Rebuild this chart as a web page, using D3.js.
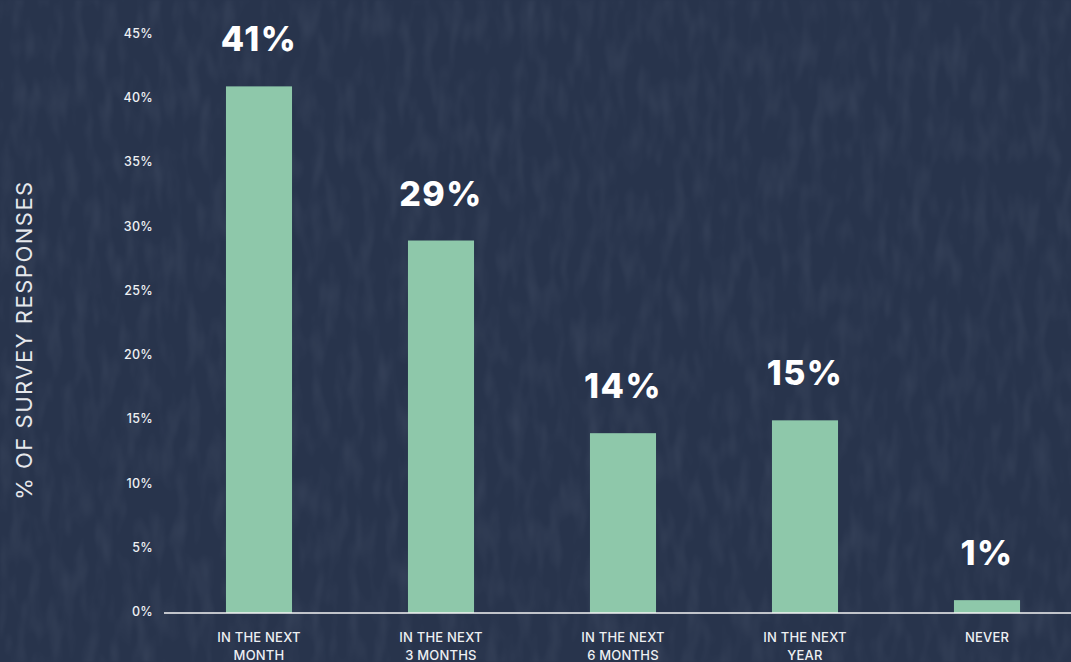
<!DOCTYPE html>
<html>
<head>
<meta charset="utf-8">
<script src="https://cdn.jsdelivr.net/npm/d3@7"></script>
<style>
  html, body { margin: 0; padding: 0; background: #29364e; }
  svg { display: block; }
</style>
</head>
<body>
<svg id="chart" width="1071" height="662"></svg>
<script>
// Survey: when do respondents expect to act?
const categories = [
  ["IN THE NEXT", "MONTH"],
  ["IN THE NEXT", "3 MONTHS"],
  ["IN THE NEXT", "6 MONTHS"],
  ["IN THE NEXT", "YEAR"],
  ["NEVER"]
];
const values = [41, 29, 14, 15, 1];
const yTicks = [0, 5, 10, 15, 20, 25, 30, 35, 40, 45];
const yTitle = "% OF SURVEY RESPONSES";

const W = 1071, H = 662;
const svg = d3.select("#chart");
const font = "Inter, 'Open Sans', sans-serif";

// Background with a soft, vertically streaked texture
const defs = svg.append("defs");
const f = defs.append("filter").attr("id", "grain")
  .attr("x", 0).attr("y", 0).attr("width", "100%").attr("height", "100%");
f.append("feTurbulence")
  .attr("type", "fractalNoise")
  .attr("baseFrequency", "0.08 0.025")
  .attr("numOctaves", 2)
  .attr("seed", 11)
  .attr("result", "noise");
f.append("feColorMatrix")
  .attr("in", "noise")
  .attr("type", "matrix")
  .attr("values", "0 0 0 0 0.72  0 0 0 0 0.80  0 0 0 0 0.95  0 0 0 0.6 -0.25");
f.append("feGaussianBlur").attr("stdDeviation", 0.8);

svg.append("rect").attr("width", W).attr("height", H).attr("fill", "#28344c");
svg.append("rect").attr("width", W).attr("height", H)
  .attr("filter", "url(#grain)").attr("opacity", 0.22);

// Scales
const idx = values.map((d, i) => i);
const x = d3.scaleBand()
  .domain(idx)
  .range([168, 1078])
  .paddingInner(0.637)
  .paddingOuter(0.3185);

const y = d3.scaleLinear()
  .domain([0, 45])
  .range([613, 35]);

// Y axis tick labels (no axis line or tick marks)
const yAxis = d3.axisLeft(y)
  .tickValues(yTicks)
  .tickFormat(d => d + "%")
  .tickSize(0)
  .tickPadding(0);
const gy = svg.append("g")
  .attr("transform", "translate(153,-1.5)")
  .call(yAxis);
gy.select(".domain").remove();
gy.selectAll("text")
  .attr("fill", "#eef0f3")
  .style("font-family", font)
  .style("font-size", "12.5px")
  .style("font-weight", 500)
  .style("letter-spacing", "0.3px");

// Y axis title
svg.append("text")
  .attr("transform", "translate(32,340) rotate(-90)")
  .attr("text-anchor", "middle")
  .attr("fill", "#e6e8ec")
  .style("font-family", font)
  .style("font-size", "22px")
  .style("font-weight", 400)
  .style("letter-spacing", "1.5px")
  .text(yTitle);

// Bars
svg.append("g").selectAll("rect")
  .data(values)
  .join("rect")
  .attr("x", (d, i) => x(i))
  .attr("width", x.bandwidth())
  .attr("y", d => y(d))
  .attr("height", d => y(0) - y(d))
  .attr("fill", "#8ec8aa");

// Baseline
svg.append("line")
  .attr("x1", 164).attr("x2", W)
  .attr("y1", y(0)).attr("y2", y(0))
  .attr("stroke", "#f4f4f4")
  .attr("stroke-width", 1.5);

// Value labels above bars
svg.append("g").selectAll("text")
  .data(values)
  .join("text")
  .attr("x", (d, i) => x(i) + x.bandwidth() / 2)
  .attr("y", d => y(d) - 35)
  .attr("text-anchor", "middle")
  .attr("fill", "#ffffff")
  .style("font-family", font)
  .style("font-size", "34px")
  .style("font-weight", 800)
  .style("letter-spacing", "1.5px")
  .text(d => d + "%");

// Category labels under bars
const cat = svg.append("g").selectAll("text")
  .data(categories)
  .join("text")
  .attr("x", (d, i) => x(i) + x.bandwidth() / 2)
  .attr("y", 642)
  .attr("text-anchor", "middle")
  .attr("fill", "#eef0f3")
  .style("font-family", font)
  .style("font-size", "13px")
  .style("font-weight", 500)
  .style("letter-spacing", "0.2px");
cat.selectAll("tspan")
  .data(d => d)
  .join("tspan")
  .attr("x", function () { return d3.select(this.parentNode).attr("x"); })
  .attr("dy", (d, i) => i === 0 ? 0 : 18)
  .text(d => d);
</script>
</body>
</html>
